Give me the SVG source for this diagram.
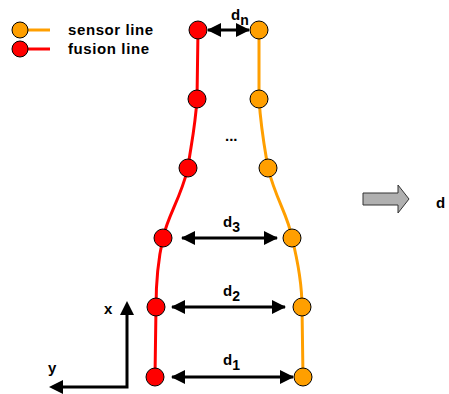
<svg xmlns="http://www.w3.org/2000/svg" width="449" height="394" viewBox="0 0 449 394">
  <style>
    .lbl { font-family: "Liberation Sans", Arial, sans-serif; font-weight: bold; font-size: 15px; fill: #000; }
    .leg { font-size: 15px; letter-spacing: 0.6px; }
    .sub { font-size: 14px; }
    .fus { fill: #ff0000; stroke: #000; stroke-width: 1; }
    .sen { fill: #ff9f00; stroke: #000; stroke-width: 1; }
    .dim { stroke: #000; stroke-width: 3; fill: none; }
  </style>
  <defs>
    <marker id="ah" markerWidth="14" markerHeight="14" refX="13" refY="7" orient="auto-start-reverse" markerUnits="userSpaceOnUse">
      <path d="M0,0 L14,7 L0,14 Z" fill="#000"/>
    </marker>
  </defs>

  <rect width="449" height="394" fill="#fff"/>

  <!-- legend -->
  <g id="legend">
    <line x1="20" y1="30" x2="50" y2="30" stroke="#ff9f00" stroke-width="3"/>
    <circle class="sen" cx="20" cy="30" r="8"/>
    <line x1="20" y1="49" x2="50" y2="49" stroke="#ff0000" stroke-width="3"/>
    <circle class="fus" cx="20" cy="49" r="8"/>
    <text class="lbl leg" x="68" y="35">sensor line</text>
    <text class="lbl leg" x="68" y="54">fusion line</text>
  </g>

  <!-- track lines and dimension arrows -->
  <g id="connectors">
    <path d="M198,30 L197,99 C195,130 190,150 188,168 C180,200 168,215 163,238 C158,260 156,285 156,307 L155,377" stroke="#ff0000" stroke-width="3" fill="none"/>
    <path d="M259,30 L259,99 C261,130 265,150 268,168 C276,200 288,215 292,238 C298,262 302,285 302,307 L303,377" stroke="#ff9f00" stroke-width="3" fill="none"/>
    <line class="dim" x1="208" y1="30" x2="249" y2="30" marker-start="url(#ah)" marker-end="url(#ah)"/>
    <line class="dim" x1="182" y1="238" x2="277" y2="238" marker-start="url(#ah)" marker-end="url(#ah)"/>
    <line class="dim" x1="172" y1="307" x2="285" y2="307" marker-start="url(#ah)" marker-end="url(#ah)"/>
    <line class="dim" x1="172" y1="377" x2="293" y2="377" marker-start="url(#ah)" marker-end="url(#ah)"/>
    <!-- axes -->
    <polyline points="127,312 127,387 62,387" stroke="#000" stroke-width="3" fill="none"/>
    <path d="M127,301 L120,315 L134,315 Z" fill="#000"/>
    <path d="M49,387 L63,380 L63,394 Z" fill="#000"/>
  </g>

  <!-- fusion line nodes -->
  <g id="fusion-nodes">
    <circle class="fus" cx="198" cy="30" r="9"/>
    <circle class="fus" cx="197" cy="99" r="9"/>
    <circle class="fus" cx="188" cy="168" r="9"/>
    <circle class="fus" cx="163" cy="238" r="9"/>
    <circle class="fus" cx="156" cy="307" r="9"/>
    <circle class="fus" cx="155" cy="377" r="9"/>
  </g>

  <!-- sensor line nodes -->
  <g id="sensor-nodes">
    <circle class="sen" cx="259" cy="30" r="9"/>
    <circle class="sen" cx="259" cy="99" r="9"/>
    <circle class="sen" cx="268" cy="168" r="9"/>
    <circle class="sen" cx="292" cy="238" r="9"/>
    <circle class="sen" cx="302" cy="307" r="9"/>
    <circle class="sen" cx="303" cy="377" r="9"/>
  </g>

  <!-- labels -->
  <g id="labels">
    <text class="lbl" x="231" y="20">d<tspan class="sub" dy="5">n</tspan></text>
    <text class="lbl" x="225" y="141">...</text>
    <text class="lbl" x="223" y="227">d<tspan class="sub" dy="5">3</tspan></text>
    <text class="lbl" x="223" y="296">d<tspan class="sub" dy="5">2</tspan></text>
    <text class="lbl" x="223" y="365">d<tspan class="sub" dy="5">1</tspan></text>
    <text class="lbl" x="104" y="314">x</text>
    <text class="lbl" x="48" y="373">y</text>
    <text class="lbl" x="436" y="208">d</text>
  </g>

  <!-- transition arrow -->
  <g id="result-arrow">
    <path d="M363,193 L398,193 L398,185 L409,199 L398,213 L398,205 L363,205 Z" fill="#b0b0b0" stroke="#333" stroke-width="1"/>
  </g>
</svg>
